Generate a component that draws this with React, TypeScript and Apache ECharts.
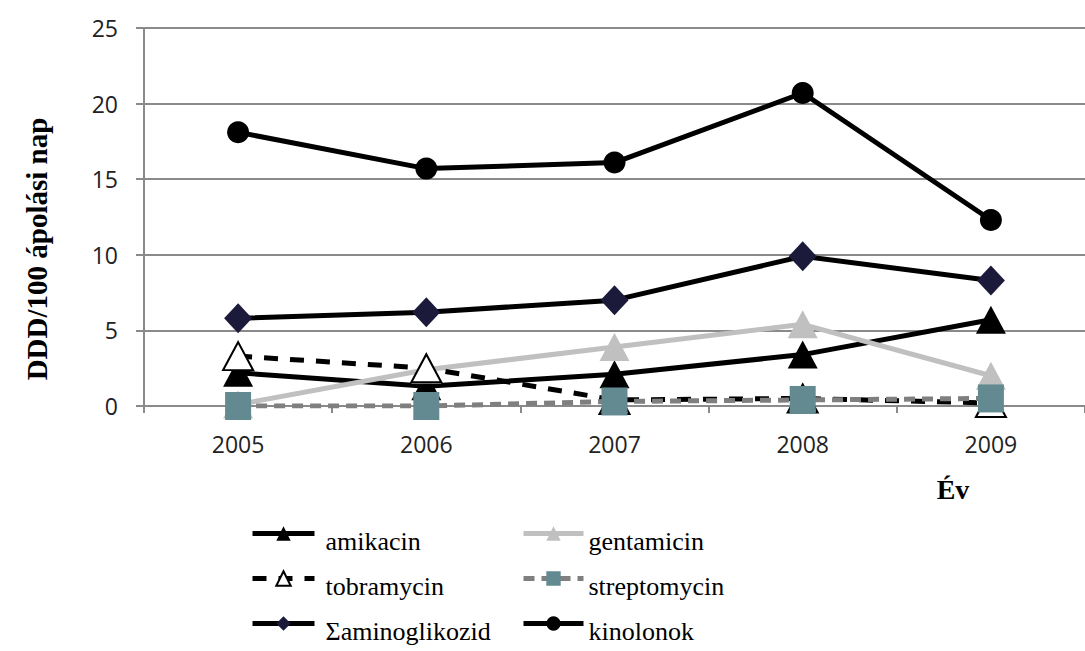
import React, { useEffect, useRef } from "react";
import * as echarts from "echarts";

// Years on the category axis
const years = ["2005", "2006", "2007", "2008", "2009"];

// DDD/100 nursing days per drug group
const amikacin = [2.2, 1.3, 2.1, 3.4, 5.7];
const gentamicin = [0.1, 2.4, 3.9, 5.4, 2.0];
const tobramycin = [3.3, 2.5, 0.4, 0.5, 0.2];
const streptomycin = [0, 0, 0.3, 0.4, 0.5];
const aminoglikozid = [5.8, 6.2, 7.0, 9.9, 8.3];
const kinolonok = [18.1, 15.7, 16.1, 20.7, 12.3];

const yTicks = { min: 0, max: 25, interval: 5 };

const serif = "'Liberation Serif', 'Times New Roman', serif";
const sans = "'Open Sans', 'Liberation Sans', sans-serif";
const gridColor = "#8a8a8a";

export default function App() {
  const ref = useRef<HTMLDivElement>(null);

  useEffect(() => {
    if (!ref.current) return;
    const chart = echarts.init(ref.current, null, { renderer: "svg" });

    // Legend labels sit a little lower than their line icons
    const legendText = (padLeft: number) => ({
      fontFamily: serif,
      fontSize: 26,
      color: "#000",
      rich: {
        t: {
          fontFamily: serif,
          fontSize: 26,
          color: "#000",
          lineHeight: 26,
          padding: [15, 0, 0, padLeft],
        },
      },
    });

    const legendBase = {
      orient: "vertical",
      top: 513,
      padding: 0,
      itemHeight: 18,
      itemGap: 4,
      lineStyle: { width: 5 },
      formatter: (name: string) => `{t|${name}}`,
    };

    chart.setOption({
      animation: false,
      backgroundColor: "#fff",
      grid: { left: 144, top: 28, width: 950, height: 378, containLabel: false },
      xAxis: {
        type: "category",
        data: years,
        boundaryGap: true,
        axisLine: { lineStyle: { color: gridColor, width: 2 } },
        axisTick: { show: true, length: 7, lineStyle: { color: gridColor, width: 2 } },
        axisLabel: { fontFamily: sans, fontSize: 23, color: "#222", margin: 26 },
      },
      yAxis: {
        type: "value",
        min: yTicks.min,
        max: yTicks.max,
        interval: yTicks.interval,
        axisLine: { show: true, lineStyle: { color: gridColor, width: 2 } },
        axisTick: { show: true, length: 8, lineStyle: { color: gridColor, width: 2 } },
        axisLabel: { fontFamily: sans, fontSize: 23, color: "#222", margin: 26 },
        splitLine: { lineStyle: { color: gridColor, width: 2 } },
      },
      legend: [
        {
          ...legendBase,
          left: 250,
          itemWidth: 62,
          textStyle: legendText(6),
          data: ["amikacin", "tobramycin", "Σaminoglikozid"],
        },
        {
          ...legendBase,
          left: 521,
          itemWidth: 60,
          textStyle: legendText(0),
          data: ["gentamicin", "streptomycin", "kinolonok"],
        },
      ],
      graphic: [
        {
          type: "text",
          x: 37,
          y: 249,
          rotation: Math.PI / 2,
          style: {
            text: "DDD/100 ápolási nap",
            font: `bold 29px ${serif}`,
            fill: "#000",
            textAlign: "center",
            textVerticalAlign: "middle",
          },
        },
        {
          type: "text",
          x: 953,
          y: 489,
          style: {
            text: "Év",
            font: `bold 28px ${serif}`,
            fill: "#000",
            textAlign: "center",
            textVerticalAlign: "middle",
          },
        },
      ],
      series: [
        {
          name: "amikacin",
          type: "line",
          data: amikacin,
          symbol: "triangle",
          symbolSize: [30, 28],
          lineStyle: { color: "#000", width: 5 },
          itemStyle: { color: "#000" },
        },
        {
          name: "gentamicin",
          type: "line",
          data: gentamicin,
          symbol: "triangle",
          symbolSize: [30, 28],
          lineStyle: { color: "#c0c0c0", width: 5 },
          itemStyle: { color: "#c0c0c0" },
        },
        {
          name: "tobramycin",
          type: "line",
          data: tobramycin,
          symbol: "triangle",
          symbolSize: [30, 28],
          lineStyle: { color: "#000", width: 5, type: [14, 12] },
          itemStyle: { color: "#fff", borderColor: "#000", borderWidth: 2 },
        },
        {
          name: "streptomycin",
          type: "line",
          data: streptomycin,
          symbol: "rect",
          symbolSize: [26, 28],
          lineStyle: { color: "#7f7f7f", width: 5, type: [11, 7] },
          itemStyle: { color: "#628a90" },
        },
        {
          name: "Σaminoglikozid",
          type: "line",
          data: aminoglikozid,
          symbol: "diamond",
          symbolSize: [28, 30],
          lineStyle: { color: "#000", width: 5 },
          itemStyle: { color: "#1c1a3a" },
        },
        {
          name: "kinolonok",
          type: "line",
          data: kinolonok,
          symbol: "circle",
          symbolSize: 22,
          lineStyle: { color: "#000", width: 5 },
          itemStyle: { color: "#000" },
        },
      ],
    });

    return () => chart.dispose();
  }, []);

  return (
    <div
      ref={ref}
      style={{ position: "fixed", left: 0, top: 0, width: 1085, height: 651, background: "#fff" }}
    />
  );
}
